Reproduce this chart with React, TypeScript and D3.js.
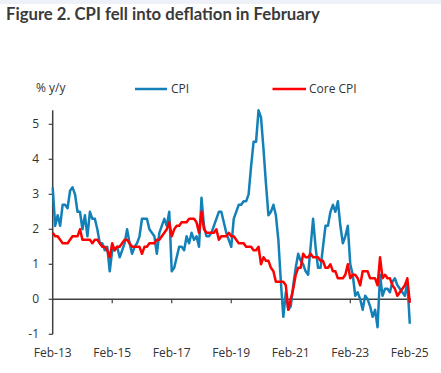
import * as d3 from "d3";

// monthly, Feb-13 .. Feb-25
const cpi = [
  3.2, 2.1, 2.4, 2.1, 2.7, 2.7, 2.6, 3.1, 3.2, 3.0, 2.5,
  2.5, 2.0, 2.4, 1.8, 2.5, 2.3, 2.3, 2.0, 1.6, 1.6, 1.4, 1.5,
  0.8, 1.4, 1.4, 1.5, 1.2, 1.4, 1.6, 2.0, 1.6, 1.3, 1.5, 1.6,
  1.8, 2.3, 2.3, 2.3, 2.0, 1.9, 1.8, 1.3, 1.9, 2.1, 2.3, 2.1,
  2.5, 0.8, 0.9, 1.2, 1.5, 1.5, 1.4, 1.8, 1.6, 1.9, 1.7, 1.8,
  1.5, 2.9, 2.1, 1.8, 1.8, 1.9, 2.1, 2.3, 2.5, 2.5, 2.2, 1.9,
  1.7, 1.5, 2.3, 2.5, 2.7, 2.7, 2.8, 2.8, 3.0, 3.8, 4.5, 4.5,
  5.4, 5.2, 4.3, 3.3, 2.4, 2.5, 2.7, 2.4, 1.7, 0.5, -0.5, 0.2,
  -0.3, -0.2, 0.4, 0.9, 1.3, 1.1, 1.0, 0.8, 0.7, 1.5, 2.3, 1.5,
  0.9, 0.9, 1.5, 2.1, 2.1, 2.5, 2.7, 2.5, 2.8, 2.1, 1.6, 1.8,
  2.1, 1.0, 0.7, 0.1, 0.2, 0.0, -0.3, 0.1, 0.0, -0.2, -0.5, -0.3,
  -0.8, 0.7, 0.1, 0.3, 0.3, 0.2, 0.5, 0.6, 0.4, 0.3, 0.2, 0.1,
  0.5, -0.7,
];

const coreCpi = [
  1.9, 1.8, 1.8, 1.7, 1.6, 1.6, 1.6, 1.7, 1.8, 1.8, 1.8,
  2.0, 1.7, 1.7, 1.7, 1.7, 1.6, 1.7, 1.7, 1.6, 1.5, 1.5, 1.4,
  1.2, 1.6, 1.4, 1.5, 1.5, 1.6, 1.7, 1.7, 1.6, 1.5, 1.5, 1.5,
  1.5, 1.3, 1.5, 1.5, 1.6, 1.6, 1.6, 1.7, 1.7, 1.8, 1.9, 2.0,
  2.2, 1.8, 2.0, 2.1, 2.1, 2.2, 2.2, 2.2, 2.3, 2.3, 2.3, 2.2,
  1.9, 2.5, 2.0, 1.9, 1.9, 1.9, 1.9, 2.0, 1.7, 1.8, 1.8, 1.8,
  1.9, 1.8, 1.8, 1.7, 1.6, 1.6, 1.6, 1.5, 1.5, 1.5, 1.4, 1.4,
  1.5, 1.0, 1.2, 1.1, 1.1, 0.9, 0.8, 0.5, 0.5, 0.5, 0.5, 0.4,
  -0.3, 0.0, 0.3, 0.7, 0.9, 0.9, 1.3, 1.2, 1.2, 1.3, 1.2, 1.2,
  1.2, 1.1, 1.1, 0.9, 0.9, 1.0, 0.8, 0.8, 0.6, 0.6, 0.6, 0.7,
  1.0, 0.6, 0.7, 0.7, 0.6, 0.4, 0.8, 0.8, 0.8, 0.6, 0.6, 0.6,
  0.4, 1.2, 0.6, 0.7, 0.6, 0.6, 0.4, 0.3, 0.1, 0.2, 0.3, 0.4,
  0.6, -0.1,
];

const xTickLabels = ["Feb-13", "Feb-15", "Feb-17", "Feb-19", "Feb-21", "Feb-23", "Feb-25"];
const yTicks = [-1, 0, 1, 2, 3, 4, 5];

const W = 441;
const H = 373;
const font = "'Open Sans', sans-serif";
const ink = "#333333";
const blue = "#1380b8";
const red = "#ff0000";

export default function App() {
  // month index -> pixel
  const x = d3.scaleLinear().domain([0, cpi.length - 1]).range([52.7, 409.8]);
  const y = d3.scaleLinear().domain([-1, 5.4]).range([334.3, 110.3]);

  const line = d3
    .line<number>()
    .x((_, i) => x(i))
    .y((d) => y(d));

  return (
    <svg
      width={W}
      height={H}
      style={{ position: "absolute", left: 0, top: 0, display: "block", background: "#fff" }}
    >
      <rect x={0} y={0} width={W} height={4} fill="#eef2f8" />
      <text x={6} y={20} fontFamily="Lato, sans-serif" fontWeight="bold" fontSize={16.7} fill="#3a3a3a">
        Figure 2. CPI fell into deflation in February
      </text>

      {/* legend */}
      <text x={36} y={92} fontFamily={font} fontSize={12} fill={ink}>% y/y</text>
      <line x1={135} x2={167} y1={89} y2={89} stroke={blue} strokeWidth={2.5} />
      <text x={171} y={93} fontFamily={font} fontSize={12} fill={ink}>CPI</text>
      <line x1={272.5} x2={306} y1={89} y2={89} stroke={red} strokeWidth={2.5} />
      <text x={309} y={93} fontFamily={font} fontSize={12} fill={ink}>Core CPI</text>

      {/* y axis */}
      <line x1={x(0)} x2={x(0)} y1={y(5.4)} y2={y(-1)} stroke="#404040" strokeWidth={1.5} />
      {yTicks.map((t) => (
        <g key={t}>
          <line x1={x(0) - 4} x2={x(0)} y1={y(t)} y2={y(t)} stroke="#404040" strokeWidth={1.2} />
          <text x={39} y={y(t) + 4} textAnchor="end" fontFamily={font} fontSize={12} fill={ink}>
            {t}
          </text>
        </g>
      ))}

      {/* zero line with x ticks */}
      <line x1={x(0)} x2={411} y1={y(0)} y2={y(0)} stroke="#404040" strokeWidth={1.5} />
      {xTickLabels.map((lab, i) => (
        <g key={lab}>
          {i > 0 && i < xTickLabels.length - 1 && (
            <line x1={x(i * 24)} x2={x(i * 24)} y1={y(0)} y2={y(0) + 4} stroke="#404040" strokeWidth={1.2} />
          )}
          <text x={x(i * 24)} y={357} textAnchor="middle" fontFamily={font} fontSize={12} fill={ink}>
            {lab}
          </text>
        </g>
      ))}

      <path d={line(cpi) ?? ""} fill="none" stroke={blue} strokeWidth={2.5} strokeLinejoin="round" />
      <path d={line(coreCpi) ?? ""} fill="none" stroke={red} strokeWidth={2.5} strokeLinejoin="round" />
    </svg>
  );
}
